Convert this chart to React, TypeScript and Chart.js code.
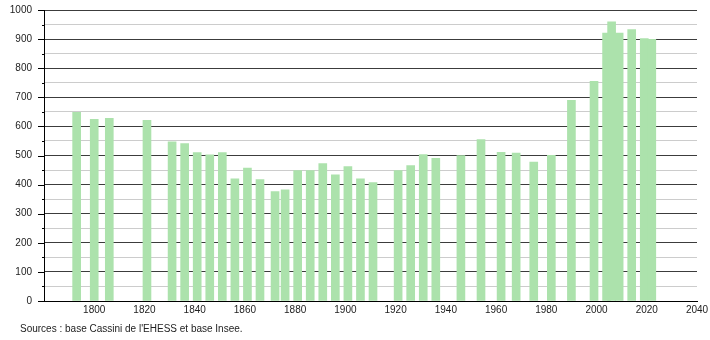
import React, { useEffect, useRef } from 'react';
import { Chart, registerables } from 'chart.js';

Chart.register(...registerables);

const years = [
  1793, 1800, 1806, 1821, 1831, 1836, 1841, 1846, 1851, 1856, 1861, 1866, 1872, 1876,
  1881, 1886, 1891, 1896, 1901, 1906, 1911, 1921, 1926, 1931, 1936, 1946, 1954, 1962,
  1968, 1975, 1982, 1990, 1999, 2004, 2006, 2009, 2014, 2019, 2022,
];
const population = [
  648, 624, 628, 621, 547, 541, 510, 502, 510, 420, 457, 417, 376, 382,
  448, 448, 472, 434, 462, 420, 407, 448, 465, 503, 490, 500, 555, 511,
  508, 477, 501, 690, 755, 921, 959, 921, 933, 902, 899,
];
const xMin = 1780;
const xMax = 2040;
const xStep = 20;
const yMin = 0;
const yMax = 1000;
const yMinorStep = 50;
const yMajorStep = 100;
const sourceText = "Sources : base Cassini de l'EHESS et base Insee.";

const FONT = '"Liberation Sans", Arial, sans-serif';

export default function App() {
  const ref = useRef<HTMLCanvasElement | null>(null);

  useEffect(() => {
    if (!ref.current) return;
    const extras = {
      id: 'extras',
      afterDraw(chart: any) {
        const ctx = chart.ctx;
        const ys = chart.scales.y;
        ctx.save();
        ctx.strokeStyle = '#000';
        ctx.lineWidth = 1;
        for (let v = yMin; v <= yMax; v += yMinorStep) {
          const y = Math.round(ys.getPixelForValue(v)) + 0.5;
          const len = v % yMajorStep === 0 ? 6 : 2;
          ctx.beginPath();
          ctx.moveTo(ys.right - len, y);
          ctx.lineTo(ys.right, y);
          ctx.stroke();
        }
        ctx.fillStyle = '#222';
        ctx.font = '10px ' + FONT;
        ctx.textBaseline = 'middle';
        ctx.textAlign = 'left';
        ctx.fillText(sourceText, 20, 329);
        ctx.restore();
      },
    };
    const chart = new Chart(ref.current, {
      type: 'bar',
      data: {
        datasets: [
          {
            data: years.map((x, i) => ({ x, y: population[i] })),
            backgroundColor: 'rgb(172,226,172)',
            borderWidth: 0,
            barThickness: 8,
          },
        ],
      },
      options: {
        responsive: false,
        animation: false,
        layout: { padding: { left: 0, right: 13, top: 10, bottom: 24 } },
        plugins: {
          legend: { display: false },
          tooltip: { enabled: false },
          title: { display: false },
        },
        scales: {
          x: {
            type: 'linear',
            min: xMin,
            max: xMax,
            offset: false,
            grid: { display: false, drawTicks: false },
            border: { display: true, color: '#000', width: 1 },
            ticks: {
              stepSize: xStep,
              color: '#222',
              font: { family: FONT, size: 10 },
              padding: 3,
              maxRotation: 0,
              autoSkip: false,
              callback: (v: any) => (v === xMin ? '' : String(v)),
            },
            afterFit: (s: any) => {
              s.height = 15;
              s.paddingLeft = 0;
              s.paddingRight = 0;
            },
          },
          y: {
            type: 'linear',
            min: yMin,
            max: yMax,
            grid: {
              drawTicks: false,
              color: (c: any) =>
                c.tick && c.tick.value % yMajorStep === 0 ? '#3c3c3c' : '#cccccc',
              lineWidth: 1,
            },
            border: { display: true, color: '#000', width: 1 },
            ticks: {
              stepSize: yMinorStep,
              color: '#222',
              font: { family: FONT, size: 10 },
              padding: 12,
              autoSkip: false,
              callback: (v: any) => (v % yMajorStep === 0 ? String(v) : ''),
            },
            afterFit: (s: any) => {
              s.width = 44;
              s.paddingTop = 0;
              s.paddingBottom = 0;
            },
          },
        },
      },
      plugins: [extras],
    });
    return () => chart.destroy();
  }, []);

  return (
    <div style={{ position: 'fixed', left: 0, top: 0, width: 710, height: 340, background: '#fff' }}>
      <canvas ref={ref} width={710} height={340} style={{ width: 710, height: 340, display: 'block' }} />
    </div>
  );
}
